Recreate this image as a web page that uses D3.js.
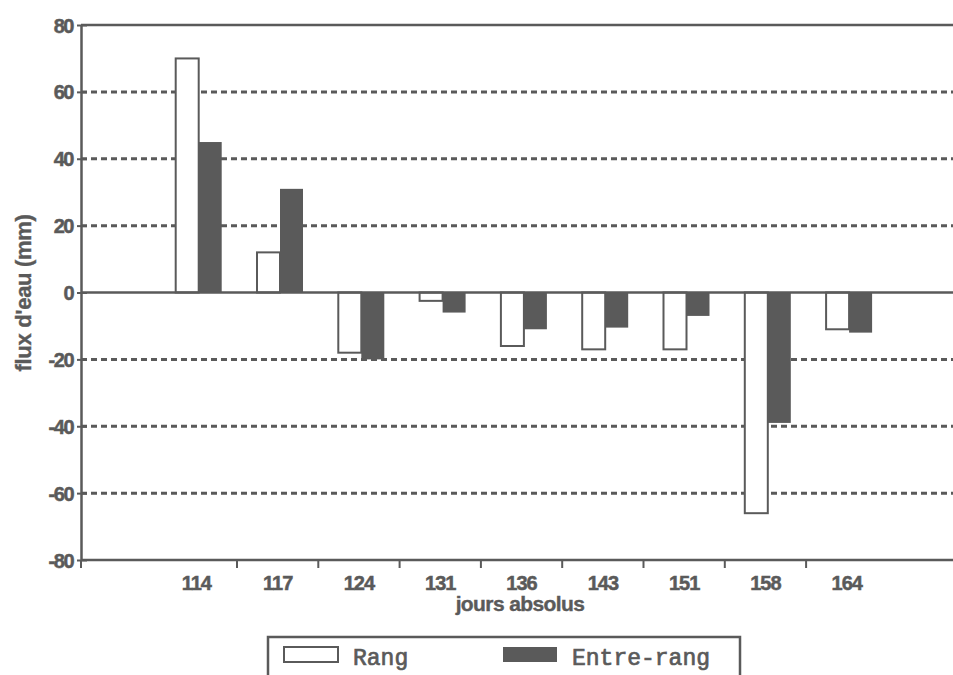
<!DOCTYPE html>
<html><head><meta charset="utf-8">
<script src="https://cdn.jsdelivr.net/npm/d3@7"></script>
<style>body{margin:0;background:#fff}svg{display:block}</style>
</head><body>
<svg id="c" width="953" height="675"></svg>
<script>
const categories = ["114","117","124","131","136","143","151","158","164"];
const rang = [70, 12, -18, -2.5, -16, -17, -17, -66, -11];
const entreRang = [45, 31, -20, -6, -11, -10.5, -7, -39, -12];
const seriesNames = ["Rang","Entre-rang"];
const yTicks = [-80,-60,-40,-20,0,20,40,60,80];
const gridTicks = [-60,-40,-20,20,40,60];

const ink = "#5a5a5a";
const sans = "'Liberation Sans', Arial, sans-serif";
const svg = d3.select("#c");
const L = 81, T = 25, B = 560, R = 960;

const y = d3.scaleLinear().domain([-80,80]).range([B,T]);
const x = d3.scaleBand().domain(categories).range([155.7, 887.4]).padding(0);
const xs = d3.scaleBand().domain(seriesNames).range([20, 66]).padding(0);

// gridlines
svg.append("g").selectAll("line").data(gridTicks).join("line")
  .attr("x1", L).attr("x2", R).attr("y1", d=>y(d)).attr("y2", d=>y(d))
  .attr("stroke", ink).attr("stroke-width", 3).attr("stroke-dasharray","6,4");

// bars
const data = categories.map((c,i)=>({c, vals:[{s:"Rang",v:rang[i]},{s:"Entre-rang",v:entreRang[i]}]}));
const g = svg.append("g").selectAll("g").data(data).join("g")
  .attr("transform", d=>`translate(${x(d.c)},0)`);
g.selectAll("rect").data(d=>d.vals).join("rect")
  .attr("x", d=>xs(d.s)).attr("width", xs.bandwidth())
  .attr("y", d=>y(Math.max(0,d.v))).attr("height", d=>Math.abs(y(d.v)-y(0)))
  .attr("fill", d=>d.s==="Rang" ? "#fff" : ink)
  .attr("stroke", d=>d.s==="Rang" ? ink : "none")
  .attr("stroke-width", 2);

// zero line
svg.append("line").attr("x1", L).attr("x2", R).attr("y1", y(0)).attr("y2", y(0))
  .attr("stroke", ink).attr("stroke-width", 2.5);

// frame
svg.append("line").attr("x1", L).attr("x2", R).attr("y1", T).attr("y2", T).attr("stroke", ink).attr("stroke-width", 2.5);
svg.append("line").attr("x1", L).attr("x2", R).attr("y1", B).attr("y2", B).attr("stroke", ink).attr("stroke-width", 2.5);

// y axis
const yAxis = d3.axisLeft(y).tickValues(yTicks).tickSizeInner(4).tickSizeOuter(0).tickPadding(4).tickFormat(d=>String(d));
const ya = svg.append("g").attr("transform", `translate(${L},0)`).call(yAxis);
ya.select(".domain").attr("stroke", ink).attr("stroke-width", 2.5);
ya.selectAll(".tick line").attr("stroke", ink).attr("stroke-width", 2).attr("x1", 6);
ya.selectAll(".tick text").attr("fill", ink).attr("stroke", ink).attr("stroke-width", 0.5)
  .attr("font-family", sans).attr("font-size", 20).attr("font-weight","bold")
  .attr("letter-spacing", -1.5).attr("dy","0.35em");

// x axis: ticks between categories
const bounds = categories.slice(1).map(c=>x(c));
svg.append("g").selectAll("line").data(bounds).join("line")
  .attr("x1", d=>d).attr("x2", d=>d).attr("y1", B).attr("y2", B+8)
  .attr("stroke", ink).attr("stroke-width", 2);
svg.append("line").attr("x1", L).attr("x2", L).attr("y1", B).attr("y2", B+8).attr("stroke", ink).attr("stroke-width", 2);
svg.append("g").selectAll("text").data(categories).join("text")
  .attr("x", d=>x(d)+x.bandwidth()/2).attr("y", 590)
  .attr("text-anchor","middle").attr("fill", ink).attr("stroke", ink).attr("stroke-width", 0.5)
  .attr("font-family", sans).attr("font-size", 20).attr("font-weight","bold")
  .attr("letter-spacing", -1)
  .text(d=>d);

// axis titles
svg.append("text").attr("x", 520).attr("y", 611).attr("text-anchor","middle").attr("fill", ink)
  .attr("stroke", ink).attr("stroke-width", 0.4)
  .attr("font-family", sans).attr("font-size", 21).attr("font-weight","bold")
  .attr("letter-spacing", -0.6).text("jours absolus");
svg.append("text").attr("transform","translate(31,293) rotate(-90)").attr("text-anchor","middle").attr("fill", ink)
  .attr("stroke", ink).attr("stroke-width", 0.4)
  .attr("font-family", sans).attr("font-size", 22).attr("font-weight","bold")
  .attr("letter-spacing", -0.3).text("flux d'eau (mm)");

// legend
const lg = svg.append("g");
lg.append("rect").attr("x", 268).attr("y", 637).attr("width", 472).attr("height", 60)
  .attr("fill","#fff").attr("stroke", ink).attr("stroke-width", 2.5);
const legendItems = [{s:"Rang", sx:284, tx:353},{s:"Entre-rang", sx:503, tx:572}];
legendItems.forEach(it=>{
  lg.append("rect").attr("x", it.sx).attr("y", 647).attr("width", 54).attr("height", 15)
    .attr("fill", it.s==="Rang" ? "#fff" : ink).attr("stroke", it.s==="Rang" ? ink : "none").attr("stroke-width", 2);
  lg.append("text").attr("x", it.tx).attr("y", 665).attr("fill", ink).attr("stroke", ink).attr("stroke-width", 0.7)
    .attr("font-family","'Liberation Mono', 'Courier New', monospace").attr("font-size", 23)
    .text(it.s);
});
</script>
</body></html>
